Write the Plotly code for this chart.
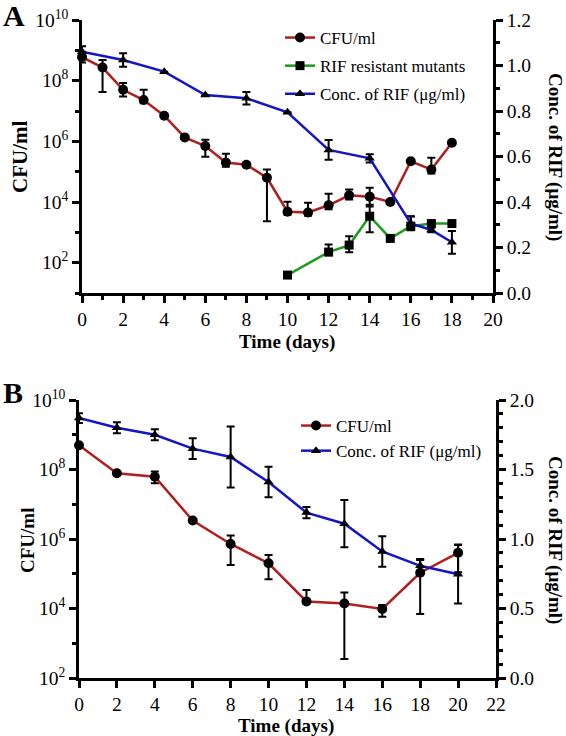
import plotly.graph_objects as go

# ---------------- Panel A data ----------------
days_A = list(range(0, 19))
cfu_A = [6e8, 2.7e8, 5e7, 2.3e7, 7e6, 1.35e6, 7e5, 2e5, 1.7e5, 6.3e4,
         4.8e3, 4.5e3, 7.8e3, 1.66e4, 1.5e4, 1.0e4, 2.2e5, 1.17e5, 9e5]
cfu_A_plus = [2.9e8, 2.1e8, 3.3e7, 2.7e7, 0, 0, 4.2e5, 1.9e5, 0, 5.4e4,
              5.4e3, 5.0e3, 1.1e4, 0.9e4, 1.45e4, 0, 0, 1.7e5, 0]
cfu_A_minus = [2e8, 2.28e8, 2e7, 5e6, 0, 0, 3.9e5, 5.5e4, 0, 6.07e4,
               1e3, 1e3, 2e3, 4.6e3, 7.9e3, 0, 0, 3e4, 0]

days_mut_A = [10, 12, 13, 14, 15, 16, 17, 18]
mut_A = [39, 224, 380, 3400, 630, 1600, 1950, 1950]
mut_A_plus = [0, 176, 360, 4700, 0, 1800, 300, 0]
mut_A_minus = [0, 50, 161, 2400, 0, 400, 300, 0]

days_rif_A = [0, 2, 4, 6, 8, 10, 12, 14, 16, 17, 18]
rif_A = [1.06, 1.024, 0.973, 0.870, 0.856, 0.794, 0.629, 0.592, 0.306, 0.277, 0.223]
rif_A_err = [0.025, 0.03, 0, 0, 0.027, 0, 0.043, 0.018, 0.03, 0.01, 0.05]

# ---------------- Panel B data ----------------
days_B = [0, 2, 4, 6, 8, 10, 12, 14, 16, 18, 20]
cfu_B = [5e8, 7.8e7, 6.2e7, 3.4e6, 7.2e5, 2e5, 1.6e4, 1.4e4, 9.7e3, 1.07e5, 4e5]
cfu_B_plus = [0, 0, 2.5e7, 0, 5.4e5, 1.47e5, 1.8e4, 1.5e4, 2.9e3, 1.43e5, 2.9e5]
cfu_B_minus = [0, 0, 2.2e7, 0, 5.4e5, 1.3e5, 2e3, 1.365e4, 3.95e3, 1.0e5, 2.9e5]

rif_B = [1.87, 1.80, 1.75, 1.65, 1.59, 1.41, 1.19, 1.11, 0.91, 0.807, 0.746]
rif_B_err = [0.035, 0.04, 0.04, 0.075, 0.22, 0.11, 0.04, 0.17, 0.11, 0.05, 0.21]

log_tickvals = [1e2, 1e4, 1e6, 1e8, 1e10]
log_ticktext = ["10<sup>2</sup>", "10<sup>4</sup>", "10<sup>6</sup>", "10<sup>8</sup>", "10<sup>10</sup>"]
log_minor = [1e1, 1e3, 1e5, 1e7, 1e9]

RED = "#B01E1E"
GREEN = "#1F9A1F"
BLUE = "#1414C8"
FONT = "Liberation Serif"
W, H = 566, 736


def err(plus, minus=None):
    d = dict(type="data", array=plus, color="black", thickness=2, width=4, visible=True)
    if minus is not None:
        d["symmetric"] = False
        d["arrayminus"] = minus
    return d


fig = go.Figure()

# Panel A traces
fig.add_trace(go.Scatter(x=days_A, y=cfu_A, name="CFU/ml", mode="lines+markers",
                         line=dict(color=RED, width=2.5),
                         marker=dict(symbol="circle", size=10, color="black"),
                         error_y=err(cfu_A_plus, cfu_A_minus),
                         xaxis="x", yaxis="y", legend="legend", cliponaxis=False,
                         legendgroup="a1"))
fig.add_trace(go.Scatter(x=days_mut_A, y=mut_A, name="RIF resistant mutants", mode="lines+markers",
                         line=dict(color=GREEN, width=2.5),
                         marker=dict(symbol="square", size=9, color="black"),
                         error_y=err(mut_A_plus, mut_A_minus),
                         xaxis="x", yaxis="y", legend="legend", cliponaxis=False,
                         legendgroup="a2"))
fig.add_trace(go.Scatter(x=days_rif_A, y=rif_A, name="Conc. of RIF (μg/ml)", mode="lines+markers",
                         line=dict(color=BLUE, width=2.5),
                         marker=dict(symbol="triangle-up", size=9, color="black"),
                         error_y=err(rif_A_err),
                         xaxis="x", yaxis="y2", legend="legend", cliponaxis=False,
                         legendgroup="a3"))

# Panel B traces
fig.add_trace(go.Scatter(x=days_B, y=cfu_B, name="CFU/ml", mode="lines+markers",
                         line=dict(color=RED, width=2.5),
                         marker=dict(symbol="circle", size=10, color="black"),
                         error_y=err(cfu_B_plus, cfu_B_minus),
                         xaxis="x2", yaxis="y3", legend="legend2", cliponaxis=False))
fig.add_trace(go.Scatter(x=days_B, y=rif_B, name="Conc. of RIF (μg/ml)", mode="lines+markers",
                         line=dict(color=BLUE, width=2.5),
                         marker=dict(symbol="triangle-up", size=9, color="black"),
                         error_y=err(rif_B_err),
                         xaxis="x2", yaxis="y4", legend="legend2", cliponaxis=False))

tickfont = dict(family=FONT, size=19.5, color="black")
axcommon = dict(showline=True, linecolor="black", linewidth=2.5, ticks="outside",
                ticklen=7, tickwidth=2.5, tickcolor="black", showgrid=False,
                zeroline=False, tickfont=tickfont, automargin=False)

# domains (paper coords)
xA = [82 / W, 493 / W]
yA = [1 - 293 / H, 1 - 20 / H]
xB = [79 / W, 496 / W]
yB = [1 - 678 / H, 1 - 400 / H]

fig.update_layout(
    width=W, height=H, margin=dict(l=0, r=0, t=0, b=0, autoexpand=False),
    paper_bgcolor="white", plot_bgcolor="white",
    font=dict(family=FONT, color="black"),
    xaxis=dict(domain=xA, anchor="y", range=[0, 20], tickmode="array",
               tickvals=list(range(0, 21, 2)),
               minor=dict(tickvals=list(range(1, 20, 2)), ticks="outside", ticklen=4,
                          tickwidth=2.5, tickcolor="black", showgrid=False),
               **axcommon),
    yaxis=dict(domain=yA, anchor="x", type="log", range=[1, 10], tickmode="array",
               tickvals=log_tickvals, ticktext=log_ticktext,
               minor=dict(tickvals=log_minor, ticks="outside", ticklen=4,
                          tickwidth=2.5, tickcolor="black", showgrid=False),
               **axcommon),
    yaxis2=dict(overlaying="y", side="right", anchor="x", range=[0, 1.2],
                tickmode="linear", tick0=0, dtick=0.2, tickformat=".1f",
                minor=dict(dtick=0.1, tick0=0, ticks="outside", ticklen=4,
                           tickwidth=2.5, tickcolor="black", showgrid=False),
                **axcommon),
    xaxis2=dict(domain=xB, anchor="y3", range=[0, 22], tickmode="array",
                tickvals=list(range(0, 23, 2)), **axcommon),
    yaxis3=dict(domain=yB, anchor="x2", type="log", range=[2, 10], tickmode="array",
                tickvals=log_tickvals, ticktext=log_ticktext,
                minor=dict(tickvals=[1e3, 1e5, 1e7, 1e9], ticks="outside", ticklen=4,
                           tickwidth=2.5, tickcolor="black", showgrid=False),
                **axcommon),
    yaxis4=dict(overlaying="y3", side="right", anchor="x2", range=[0, 2],
                tickmode="linear", tick0=0, dtick=0.5, tickformat=".1f",
                minor=dict(dtick=0.1, tick0=0, ticks="outside", ticklen=4,
                           tickwidth=2.5, tickcolor="black", showgrid=False),
                **axcommon),
    legend=dict(x=280 / W, y=1 - 20 / H, xanchor="left", yanchor="top",
                bgcolor="rgba(0,0,0,0)", font=dict(family=FONT, size=17, color="black"),
                tracegroupgap=3, traceorder="grouped", itemwidth=30),
    legend2=dict(x=296 / W, y=1 - 408 / H, xanchor="left", yanchor="top",
                 bgcolor="rgba(0,0,0,0)", font=dict(family=FONT, size=17, color="black"),
                 itemwidth=30),
    showlegend=True,
)

title_font = dict(family=FONT, size=19, color="black")
ann = [
    dict(text="<b>A</b>", x=1 / W, y=1 - 16 / H, xanchor="left", yanchor="middle",
         font=dict(family=FONT, size=30, color="black")),
    dict(text="<b>B</b>", x=1 / W, y=1 - 392 / H, xanchor="left", yanchor="middle",
         font=dict(family=FONT, size=30, color="black")),
    dict(text="<b>CFU/ml</b>", x=20 / W, y=1 - 157 / H, textangle=-90,
         xanchor="center", yanchor="middle", font=dict(family=FONT, size=21, color="black")),
    dict(text="<b>CFU/ml</b>", x=27 / W, y=1 - 541 / H, textangle=-90,
         xanchor="center", yanchor="middle", font=title_font),
    dict(text="<b>Conc. of RIF (μg/ml)</b>", x=555 / W, y=1 - 157 / H, textangle=90,
         xanchor="center", yanchor="middle", font=title_font),
    dict(text="<b>Conc. of RIF (μg/ml)</b>", x=555 / W, y=1 - 540 / H, textangle=90,
         xanchor="center", yanchor="middle", font=title_font),
    dict(text="<b>Time (days)</b>", x=287 / W, y=1 - 342 / H,
         xanchor="center", yanchor="middle", font=title_font),
    dict(text="<b>Time (days)</b>", x=286 / W, y=1 - 726 / H,
         xanchor="center", yanchor="middle", font=title_font),
]
for a in ann:
    a.update(xref="paper", yref="paper", showarrow=False)
fig.update_layout(annotations=ann)

fig.write_html("out.html", config={"displayModeBar": False},
               post_script="document.body.style.margin='0';document.body.style.overflow='hidden';")
